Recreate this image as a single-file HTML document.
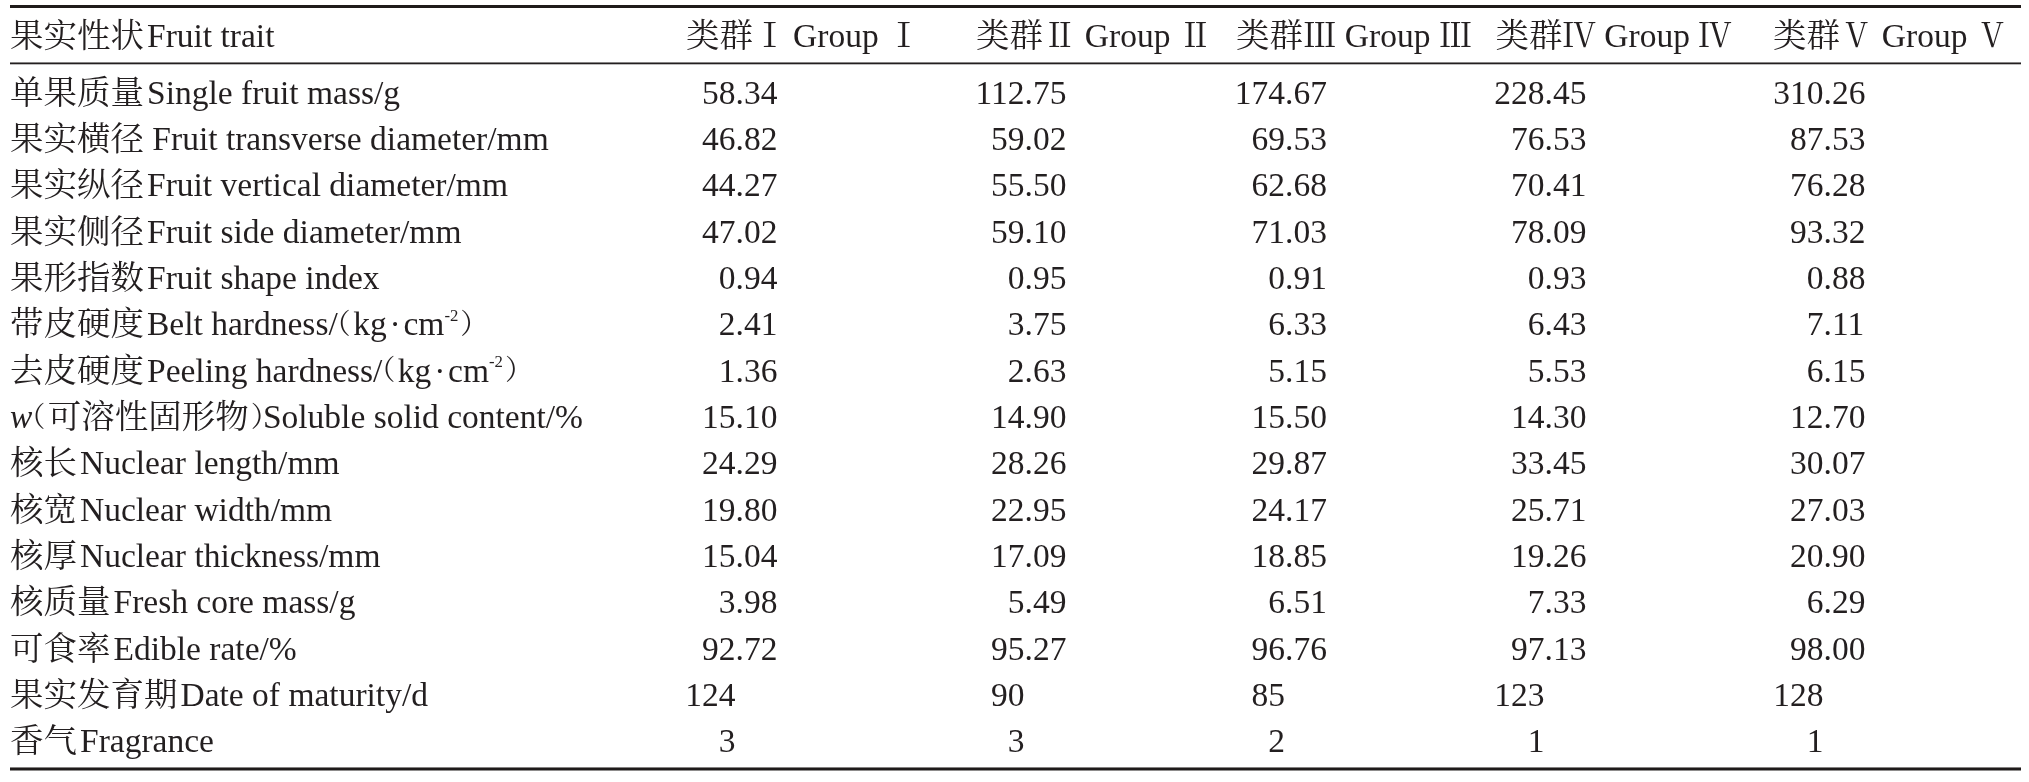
<!DOCTYPE html>
<html><head><meta charset="utf-8"><title>Table</title>
<style>
html,body{margin:0;padding:0;background:#fff;}
#w{position:absolute;left:0;top:0;width:2029px;height:782px;will-change:transform;}
body{width:2029px;height:782px;position:relative;overflow:hidden;
 font-family:"Liberation Serif","Noto Serif CJK SC",serif;font-size:33.5px;color:#231f20;}
.t{position:absolute;white-space:pre;line-height:40px;height:40px;}
.r{text-align:right;}
.ip{position:absolute;right:0;}
.fp{position:absolute;left:0;}
.rule{position:absolute;left:10px;width:2011px;background:#231f20;}
sup{font-size:50%;vertical-align:0;position:relative;top:-0.85em;line-height:0;}
.c{margin-right:3px;}
.pl,.pr{font-family:"Noto Serif CJK SC",serif;font-feature-settings:"halt" 1;line-height:0;font-size:.84em;position:relative;top:-1.5px;letter-spacing:1.4px;}
.pl{left:-1.1px;}
.pr{left:2px;letter-spacing:0;}
.dt{display:inline-block;width:.5em;text-align:center;}
i{font-style:italic;}
</style></head><body>

<div id="w">
<div class="rule" style="top:5px;height:3px;background:#1f1b1a"></div>
<div class="rule" style="top:62px;height:3px;background:linear-gradient(to bottom,rgba(35,31,32,.55) 0,rgba(35,31,32,.55) 33.3%,#231f20 33.3%,#231f20 66.6%,rgba(35,31,32,.3) 66.6%)"></div>
<div class="rule" style="top:767px;height:4px;background:linear-gradient(to bottom,rgba(31,27,26,.55) 0,rgba(31,27,26,.55) 25%,#1f1b1a 25%,#1f1b1a 75%,rgba(31,27,26,.5) 75%)"></div>
<div class="t" style="left:10.00px;top:15.70px"><span class="c">果实性状</span>Fruit trait</div>
<div class="t" style="left:686.00px;top:15.70px">类群Ⅰ <span style="margin-left:-1.8px">Group</span> Ⅰ</div>
<div class="t" style="left:976.00px;top:15.70px">类群Ⅱ Group Ⅱ</div>
<div class="t" style="left:1236.00px;top:15.70px">类群Ⅲ Group Ⅲ</div>
<div class="t" style="left:1495.50px;top:15.70px">类群Ⅳ Group Ⅳ</div>
<div class="t" style="left:1773.00px;top:15.70px">类群Ⅴ Group Ⅴ</div>
<div class="t" style="left:10.00px;top:72.70px"><span class="c">单果质量</span>Single fruit mass/g</div>
<div class="t" style="left:735.50px;top:72.70px;width:0"><span class="ip">58</span><span class="fp">.34</span></div>
<div class="t" style="left:1024.50px;top:72.70px;width:0"><span class="ip">112</span><span class="fp">.75</span></div>
<div class="t" style="left:1285.00px;top:72.70px;width:0"><span class="ip">174</span><span class="fp">.67</span></div>
<div class="t" style="left:1544.50px;top:72.70px;width:0"><span class="ip">228</span><span class="fp">.45</span></div>
<div class="t" style="left:1823.50px;top:72.70px;width:0"><span class="ip">310</span><span class="fp">.26</span></div>
<div class="t" style="left:10.00px;top:119.03px">果实横径 Fruit transverse diameter/mm</div>
<div class="t" style="left:735.50px;top:119.03px;width:0"><span class="ip">46</span><span class="fp">.82</span></div>
<div class="t" style="left:1024.50px;top:119.03px;width:0"><span class="ip">59</span><span class="fp">.02</span></div>
<div class="t" style="left:1285.00px;top:119.03px;width:0"><span class="ip">69</span><span class="fp">.53</span></div>
<div class="t" style="left:1544.50px;top:119.03px;width:0"><span class="ip">76</span><span class="fp">.53</span></div>
<div class="t" style="left:1823.50px;top:119.03px;width:0"><span class="ip">87</span><span class="fp">.53</span></div>
<div class="t" style="left:10.00px;top:165.36px"><span class="c">果实纵径</span>Fruit vertical diameter/mm</div>
<div class="t" style="left:735.50px;top:165.36px;width:0"><span class="ip">44</span><span class="fp">.27</span></div>
<div class="t" style="left:1024.50px;top:165.36px;width:0"><span class="ip">55</span><span class="fp">.50</span></div>
<div class="t" style="left:1285.00px;top:165.36px;width:0"><span class="ip">62</span><span class="fp">.68</span></div>
<div class="t" style="left:1544.50px;top:165.36px;width:0"><span class="ip">70</span><span class="fp">.41</span></div>
<div class="t" style="left:1823.50px;top:165.36px;width:0"><span class="ip">76</span><span class="fp">.28</span></div>
<div class="t" style="left:10.00px;top:211.69px"><span class="c">果实侧径</span>Fruit side diameter/mm</div>
<div class="t" style="left:735.50px;top:211.69px;width:0"><span class="ip">47</span><span class="fp">.02</span></div>
<div class="t" style="left:1024.50px;top:211.69px;width:0"><span class="ip">59</span><span class="fp">.10</span></div>
<div class="t" style="left:1285.00px;top:211.69px;width:0"><span class="ip">71</span><span class="fp">.03</span></div>
<div class="t" style="left:1544.50px;top:211.69px;width:0"><span class="ip">78</span><span class="fp">.09</span></div>
<div class="t" style="left:1823.50px;top:211.69px;width:0"><span class="ip">93</span><span class="fp">.32</span></div>
<div class="t" style="left:10.00px;top:258.02px"><span class="c">果形指数</span>Fruit shape index</div>
<div class="t" style="left:735.50px;top:258.02px;width:0"><span class="ip">0</span><span class="fp">.94</span></div>
<div class="t" style="left:1024.50px;top:258.02px;width:0"><span class="ip">0</span><span class="fp">.95</span></div>
<div class="t" style="left:1285.00px;top:258.02px;width:0"><span class="ip">0</span><span class="fp">.91</span></div>
<div class="t" style="left:1544.50px;top:258.02px;width:0"><span class="ip">0</span><span class="fp">.93</span></div>
<div class="t" style="left:1823.50px;top:258.02px;width:0"><span class="ip">0</span><span class="fp">.88</span></div>
<div class="t" style="left:10.00px;top:304.35px"><span class="c">带皮硬度</span>Belt hardness/<span class="pl">（</span>kg<span class="dt">·</span>cm<sup>-2</sup><span class="pr">）</span></div>
<div class="t" style="left:735.50px;top:304.35px;width:0"><span class="ip">2</span><span class="fp">.41</span></div>
<div class="t" style="left:1024.50px;top:304.35px;width:0"><span class="ip">3</span><span class="fp">.75</span></div>
<div class="t" style="left:1285.00px;top:304.35px;width:0"><span class="ip">6</span><span class="fp">.33</span></div>
<div class="t" style="left:1544.50px;top:304.35px;width:0"><span class="ip">6</span><span class="fp">.43</span></div>
<div class="t" style="left:1823.50px;top:304.35px;width:0"><span class="ip">7</span><span class="fp">.11</span></div>
<div class="t" style="left:10.00px;top:350.68px"><span class="c">去皮硬度</span>Peeling hardness/<span class="pl">（</span>kg<span class="dt">·</span>cm<sup>-2</sup><span class="pr">）</span></div>
<div class="t" style="left:735.50px;top:350.68px;width:0"><span class="ip">1</span><span class="fp">.36</span></div>
<div class="t" style="left:1024.50px;top:350.68px;width:0"><span class="ip">2</span><span class="fp">.63</span></div>
<div class="t" style="left:1285.00px;top:350.68px;width:0"><span class="ip">5</span><span class="fp">.15</span></div>
<div class="t" style="left:1544.50px;top:350.68px;width:0"><span class="ip">5</span><span class="fp">.53</span></div>
<div class="t" style="left:1823.50px;top:350.68px;width:0"><span class="ip">6</span><span class="fp">.15</span></div>
<div class="t" style="left:10.00px;top:397.01px"><i>w</i><span class="pl">（</span>可溶性固形物<span class="pr">）</span>Soluble solid content/%</div>
<div class="t" style="left:735.50px;top:397.01px;width:0"><span class="ip">15</span><span class="fp">.10</span></div>
<div class="t" style="left:1024.50px;top:397.01px;width:0"><span class="ip">14</span><span class="fp">.90</span></div>
<div class="t" style="left:1285.00px;top:397.01px;width:0"><span class="ip">15</span><span class="fp">.50</span></div>
<div class="t" style="left:1544.50px;top:397.01px;width:0"><span class="ip">14</span><span class="fp">.30</span></div>
<div class="t" style="left:1823.50px;top:397.01px;width:0"><span class="ip">12</span><span class="fp">.70</span></div>
<div class="t" style="left:10.00px;top:443.34px"><span class="c">核长</span>Nuclear length/mm</div>
<div class="t" style="left:735.50px;top:443.34px;width:0"><span class="ip">24</span><span class="fp">.29</span></div>
<div class="t" style="left:1024.50px;top:443.34px;width:0"><span class="ip">28</span><span class="fp">.26</span></div>
<div class="t" style="left:1285.00px;top:443.34px;width:0"><span class="ip">29</span><span class="fp">.87</span></div>
<div class="t" style="left:1544.50px;top:443.34px;width:0"><span class="ip">33</span><span class="fp">.45</span></div>
<div class="t" style="left:1823.50px;top:443.34px;width:0"><span class="ip">30</span><span class="fp">.07</span></div>
<div class="t" style="left:10.00px;top:489.67px"><span class="c">核宽</span>Nuclear width/mm</div>
<div class="t" style="left:735.50px;top:489.67px;width:0"><span class="ip">19</span><span class="fp">.80</span></div>
<div class="t" style="left:1024.50px;top:489.67px;width:0"><span class="ip">22</span><span class="fp">.95</span></div>
<div class="t" style="left:1285.00px;top:489.67px;width:0"><span class="ip">24</span><span class="fp">.17</span></div>
<div class="t" style="left:1544.50px;top:489.67px;width:0"><span class="ip">25</span><span class="fp">.71</span></div>
<div class="t" style="left:1823.50px;top:489.67px;width:0"><span class="ip">27</span><span class="fp">.03</span></div>
<div class="t" style="left:10.00px;top:536.00px"><span class="c">核厚</span>Nuclear thickness/mm</div>
<div class="t" style="left:735.50px;top:536.00px;width:0"><span class="ip">15</span><span class="fp">.04</span></div>
<div class="t" style="left:1024.50px;top:536.00px;width:0"><span class="ip">17</span><span class="fp">.09</span></div>
<div class="t" style="left:1285.00px;top:536.00px;width:0"><span class="ip">18</span><span class="fp">.85</span></div>
<div class="t" style="left:1544.50px;top:536.00px;width:0"><span class="ip">19</span><span class="fp">.26</span></div>
<div class="t" style="left:1823.50px;top:536.00px;width:0"><span class="ip">20</span><span class="fp">.90</span></div>
<div class="t" style="left:10.00px;top:582.33px"><span class="c">核质量</span>Fresh core mass/g</div>
<div class="t" style="left:735.50px;top:582.33px;width:0"><span class="ip">3</span><span class="fp">.98</span></div>
<div class="t" style="left:1024.50px;top:582.33px;width:0"><span class="ip">5</span><span class="fp">.49</span></div>
<div class="t" style="left:1285.00px;top:582.33px;width:0"><span class="ip">6</span><span class="fp">.51</span></div>
<div class="t" style="left:1544.50px;top:582.33px;width:0"><span class="ip">7</span><span class="fp">.33</span></div>
<div class="t" style="left:1823.50px;top:582.33px;width:0"><span class="ip">6</span><span class="fp">.29</span></div>
<div class="t" style="left:10.00px;top:628.66px"><span class="c">可食率</span>Edible rate/%</div>
<div class="t" style="left:735.50px;top:628.66px;width:0"><span class="ip">92</span><span class="fp">.72</span></div>
<div class="t" style="left:1024.50px;top:628.66px;width:0"><span class="ip">95</span><span class="fp">.27</span></div>
<div class="t" style="left:1285.00px;top:628.66px;width:0"><span class="ip">96</span><span class="fp">.76</span></div>
<div class="t" style="left:1544.50px;top:628.66px;width:0"><span class="ip">97</span><span class="fp">.13</span></div>
<div class="t" style="left:1823.50px;top:628.66px;width:0"><span class="ip">98</span><span class="fp">.00</span></div>
<div class="t" style="left:10.00px;top:674.99px"><span class="c">果实发育期</span>Date of maturity/d</div>
<div class="t" style="left:735.50px;top:674.99px;width:0"><span class="ip">124</span></div>
<div class="t" style="left:1024.50px;top:674.99px;width:0"><span class="ip">90</span></div>
<div class="t" style="left:1285.00px;top:674.99px;width:0"><span class="ip">85</span></div>
<div class="t" style="left:1544.50px;top:674.99px;width:0"><span class="ip">123</span></div>
<div class="t" style="left:1823.50px;top:674.99px;width:0"><span class="ip">128</span></div>
<div class="t" style="left:10.00px;top:721.32px"><span class="c">香气</span>Fragrance</div>
<div class="t" style="left:735.50px;top:721.32px;width:0"><span class="ip">3</span></div>
<div class="t" style="left:1024.50px;top:721.32px;width:0"><span class="ip">3</span></div>
<div class="t" style="left:1285.00px;top:721.32px;width:0"><span class="ip">2</span></div>
<div class="t" style="left:1544.50px;top:721.32px;width:0"><span class="ip">1</span></div>
<div class="t" style="left:1823.50px;top:721.32px;width:0"><span class="ip">1</span></div>
</div></body></html>
